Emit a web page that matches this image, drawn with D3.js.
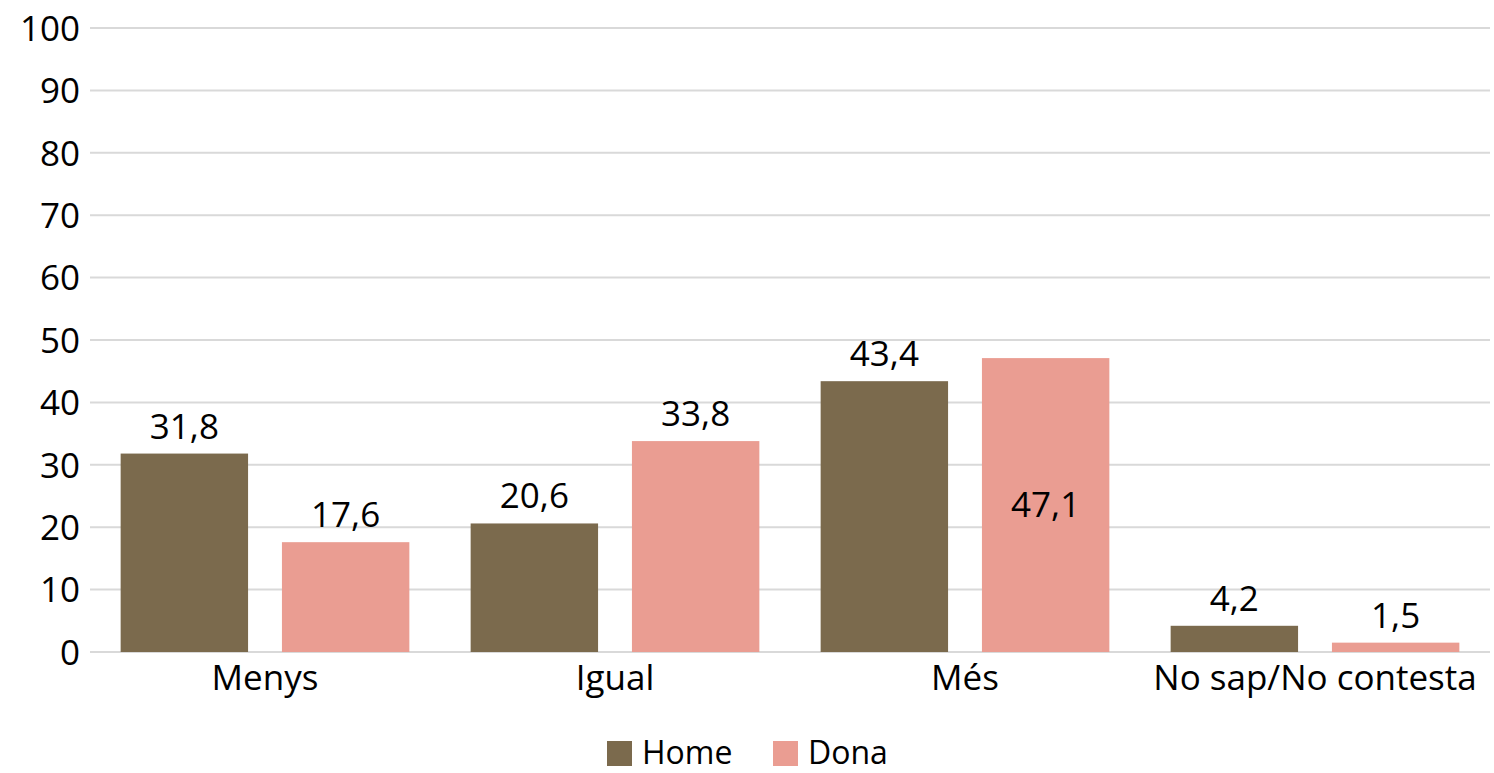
<!DOCTYPE html>
<html>
<head>
<meta charset="utf-8">
<script src="https://cdn.jsdelivr.net/npm/d3@7"></script>
<style>
  html, body { margin: 0; padding: 0; background: #fff; }
  svg text { font-family: "Open Sans", "Noto Sans", sans-serif; fill: #000; }
</style>
</head>
<body>
<svg id="chart" width="1494" height="773"></svg>
<script>
// Categories and series
const categories = ["Menys", "Igual", "Més", "No sap/No contesta"];
const seriesNames = ["Home", "Dona"];
const homeValues = [31.8, 20.6, 43.4, 4.2];
const donaValues = [17.6, 33.8, 47.1, 1.5];
const yTicks = [0, 10, 20, 30, 40, 50, 60, 70, 80, 90, 100];
const colors = { Home: "#7b6a4d", Dona: "#ea9d92" };

const FS = 35;
const svg = d3.select("#chart");
const margin = { left: 90, right: 4, top: 28, bottom: 121 };
const width = 1494, height = 773;

const x = d3.scaleBand().domain(categories)
  .range([margin.left, width - margin.right]).paddingInner(0).paddingOuter(0);
const xInner = d3.scaleBand().domain(seriesNames)
  .range([0, x.bandwidth()]).paddingInner(0.21).paddingOuter(0.19);
const y = d3.scaleLinear().domain([0, 100]).range([height - margin.bottom, margin.top]);

const fmt = v => String(v).replace(".", ",");

// Gridlines
svg.append("g").selectAll("line").data(yTicks).join("line")
  .attr("x1", margin.left).attr("x2", width - margin.right)
  .attr("y1", d => y(d)).attr("y2", d => y(d))
  .attr("stroke", "#d9d9d9").attr("stroke-width", 2);

// Y axis labels
const yAxis = d3.axisLeft(y).tickValues(yTicks).tickSize(0).tickPadding(10);
const gy = svg.append("g").attr("transform", `translate(${margin.left},0)`).call(yAxis);
gy.select(".domain").remove();
gy.selectAll("text").attr("font-size", FS).attr("fill", "#000")
  .attr("font-family", "Open Sans").attr("dy", "0.35em");

// Bars
const rows = categories.map((c, i) => ({ cat: c, Home: homeValues[i], Dona: donaValues[i] }));
const groups = svg.append("g").selectAll("g").data(rows).join("g")
  .attr("transform", d => `translate(${x(d.cat)},0)`);

groups.selectAll("rect").data(d => seriesNames.map(s => ({ s, v: d[s], cat: d.cat })))
  .join("rect")
  .attr("x", d => xInner(d.s)).attr("width", xInner.bandwidth())
  .attr("y", d => y(d.v)).attr("height", d => y(0) - y(d.v))
  .attr("fill", d => colors[d.s]);

// Value labels (inside the bar when it would collide with the neighbour's label)
groups.selectAll("text.val").data(d => seriesNames.map(s => ({ s, v: d[s], cat: d.cat })))
  .join("text").attr("class", "val")
  .attr("x", d => xInner(d.s) + xInner.bandwidth() / 2)
  .attr("y", d => (d.cat === "Més" && d.s === "Dona") ? (y(d.v) + y(0)) / 2 + 12 : y(d.v) - 15)
  .attr("text-anchor", "middle").attr("font-size", FS)
  .text(d => fmt(d.v));

// X axis labels
const xAxis = d3.axisBottom(x).tickSize(0).tickPadding(13);
const gx = svg.append("g").attr("transform", `translate(0,${y(0)})`).call(xAxis);
gx.select(".domain").remove();
gx.selectAll("text").attr("font-size", FS).attr("fill", "#000")
  .attr("font-family", "Open Sans").attr("dy", "0.71em");

// Legend
const legend = svg.append("g").attr("transform", "translate(607,741)");
const legendX = [0, 166];
seriesNames.forEach((s, i) => {
  const g = legend.append("g").attr("transform", `translate(${legendX[i]},0)`);
  g.append("rect").attr("width", 25).attr("height", 25).attr("fill", colors[s]);
  g.append("text").attr("x", 35).attr("y", 23).attr("font-size", 32).text(s);
});
</script>
</body>
</html>
